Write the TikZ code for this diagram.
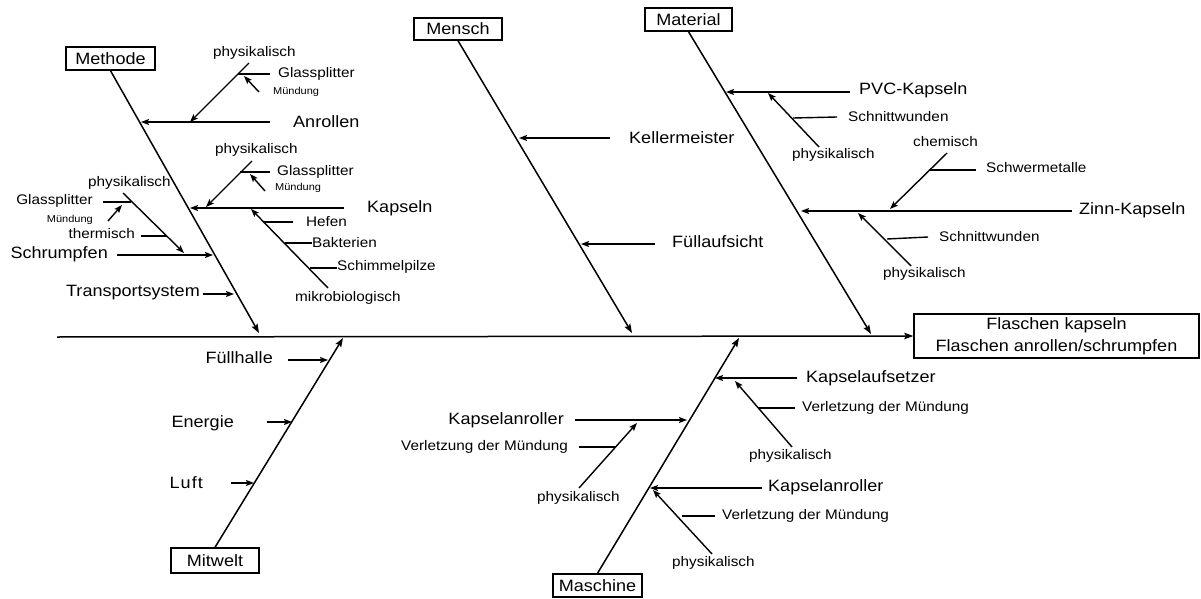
\documentclass[tikz,border=0pt]{standalone}
\usepackage{fontspec}
\setmainfont{Liberation Sans}[FakeStretch=1.1]
\usetikzlibrary{arrows.meta}
\newcommand\fbig{\fontsize{16.4}{19}\selectfont}
\newcommand\fsml{\fontsize{13.9}{16}\selectfont}
\newcommand\ftny{\fontsize{10}{12}\selectfont}
\begin{document}
\begin{tikzpicture}[x=1pt,y=-1pt,
  ln/.style={line width=1.4pt},
  arr/.style={line width=1.4pt,-{Stealth[length=8pt,width=6pt,inset=1.5pt]}},
  bone/.style={line width=1.5pt,-{Stealth[length=9pt,width=6.5pt,inset=1.5pt]}},
  box/.style={draw,line width=1.4pt,inner sep=0,font=\fbig,minimum height=23pt},
  bl/.style={inner sep=0,anchor=west,font=\fbig},
  br/.style={inner sep=0,anchor=east,font=\fbig},
  sl/.style={inner sep=0,anchor=west,font=\fsml},
  sr/.style={inner sep=0,anchor=east,font=\fsml},
  tl/.style={inner sep=0,anchor=west,font=\ftny},
  tr/.style={inner sep=0,anchor=east,font=\ftny},
]
\useasboundingbox (0,0) rectangle (1201,599);

% ---------- head and spine ----------
\node[box,minimum width=285pt,minimum height=44pt,align=center,
      font=\fontsize{16.4}{22}\selectfont] (res) at (1056.5,336)
      {Flaschen kapseln\\Flaschen anrollen/schrumpfen};
\coordinate (sp0) at (57,337);
\draw[bone] (sp0) -- (res.west);

% ---------- category boxes ----------
\node[box,minimum width=89pt] (methode) at (110.5,58.5) {Methode};
\node[box,minimum width=88pt,minimum height=22pt] (mensch) at (458,29) {Mensch};
\node[box,minimum width=87pt] (material) at (688.5,19.5) {Material};
\node[box,minimum width=88pt,minimum height=25pt] (mitwelt) at (215,560.5) {Mitwelt};
\node[box,minimum width=89pt] (maschine) at (597.5,585.5) {Maschine};

\coordinate (meE) at (259,333);
\coordinate (mnE) at (632,333);
\coordinate (maE) at (871,334);
\coordinate (miE) at (343,338);
\coordinate (msE) at (739,338);
\draw[bone] (methode.south) -- (meE);
\draw[bone] (mensch.south) -- (mnE);
\draw[bone] (material.south) -- (maE);
\draw[bone] (mitwelt.north) -- (miE);
\draw[bone] (maschine.north) -- (msE);

% ---------- Methode ----------
\node[sl] (phA) at (213,53) {physikalisch};
\node[sl] (glA) at (278,74) {Glassplitter};
\node[tl] (muA) at (273,92) {Mündung};
\node[bl] (anr) at (293,122) {Anrollen};
\coordinate (a1s) at (270,122); \coordinate (a1e) at (141,122);
\coordinate (p1s) at (249,63);  \coordinate (p1e) at (190,122);
\coordinate (g1a) at (238,74);  \coordinate (g1b) at (270,74);
\coordinate (m1s) at (259,92);  \coordinate (m1e) at (244,76);
\draw[arr] (a1s) -- (a1e);
\draw[arr] (p1s) -- (p1e);
\draw[ln] (g1a) -- (g1b);
\draw[arr] (m1s) -- (m1e);

\node[sl] (phB) at (215,150) {physikalisch};
\node[sl] (glB) at (277,172) {Glassplitter};
\node[tl] (muB) at (275,188) {Mündung};
\node[bl] (kap) at (367,208) {Kapseln};
\node[sl] (hef) at (306,222) {Hefen};
\node[sl] (bak) at (312,243) {Bakterien};
\node[sl] (sch) at (337,267) {Schimmelpilze};
\node[sl] (mik) at (295,298) {mikrobiologisch};
\coordinate (k1s) at (344,208); \coordinate (k1e) at (190,208);
\coordinate (p2s) at (252,161); \coordinate (p2e) at (206,207);
\coordinate (g2a) at (240,172); \coordinate (g2b) at (270,172);
\coordinate (m2s) at (265,191); \coordinate (m2e) at (250,174);
\coordinate (mbs) at (328,288); \coordinate (mbe) at (251,209);
\coordinate (hfa) at (263,222); \coordinate (hfb) at (293,222);
\coordinate (bka) at (285,243); \coordinate (bkb) at (312,243);
\coordinate (sca) at (310,268); \coordinate (scb) at (337,268);
\draw[arr] (k1s) -- (k1e);
\draw[arr] (p2s) -- (p2e);
\draw[ln] (g2a) -- (g2b);
\draw[arr] (m2s) -- (m2e);
\draw[arr] (mbs) -- (mbe);
\draw[ln] (hfa) -- (hfb);
\draw[ln] (bka) -- (bkb);
\draw[ln] (sca) -- (scb);

\node[sl] (phC) at (88,183) {physikalisch};
\node[sr] (glC) at (93,201) {Glassplitter};
\node[tr] (muC) at (93,220) {Mündung};
\node[sr] (the) at (135,234) {thermisch};
\node[br] (sru) at (108,254) {Schrumpfen};
\node[br] (tra) at (200,293) {Transportsystem};
\coordinate (s1s) at (117,255); \coordinate (s1e) at (213,255);
\coordinate (p3s) at (123,193); \coordinate (p3e) at (184,253);
\coordinate (g3a) at (103,202); \coordinate (g3b) at (131,202);
\coordinate (m3s) at (108,221); \coordinate (m3e) at (122,205);
\coordinate (tha) at (141,236); \coordinate (thb) at (167,236);
\coordinate (t1s) at (203,294); \coordinate (t1e) at (234,294);
\draw[arr] (s1s) -- (s1e);
\draw[arr] (p3s) -- (p3e);
\draw[ln] (g3a) -- (g3b);
\draw[arr] (m3s) -- (m3e);
\draw[ln] (tha) -- (thb);
\draw[arr] (t1s) -- (t1e);

% ---------- Mensch ----------
\node[bl] (kel) at (629,138) {Kellermeister};
\node[bl] (fau) at (672,242) {Füllaufsicht};
\coordinate (kes) at (610,138); \coordinate (kee) at (519,138);
\coordinate (fas) at (655,244); \coordinate (fae) at (581,244);
\draw[arr] (kes) -- (kee);
\draw[arr] (fas) -- (fae);

% ---------- Material ----------
\node[bl] (pvc) at (859,90) {PVC-Kapseln};
\node[sl] (snA) at (848,117) {Schnittwunden};
\node[sl] (phD) at (792,155) {physikalisch};
\node[sl] (che) at (913,142) {chemisch};
\node[sl] (swm) at (986,168) {Schwermetalle};
\node[bl] (zin) at (1079,210) {Zinn-Kapseln};
\node[sl] (snB) at (939,237) {Schnittwunden};
\node[sl] (phE) at (883,274) {physikalisch};
\coordinate (pvs) at (850,92);  \coordinate (pve) at (726,92);
\coordinate (p4s) at (819,147); \coordinate (p4e) at (768,93);
\coordinate (n1a) at (793,118); \coordinate (n1b) at (837,117);
\coordinate (zis) at (1072,211); \coordinate (zie) at (801,211);
\coordinate (chs) at (947,153); \coordinate (che2) at (890,209);
\coordinate (swa) at (930,170); \coordinate (swb) at (976,170);
\coordinate (p5s) at (911,266); \coordinate (p5e) at (858,213);
\coordinate (n2a) at (887,239); \coordinate (n2b) at (928,237);
\draw[arr] (pvs) -- (pve);
\draw[arr] (p4s) -- (p4e);
\draw[ln] (n1a) -- (n1b);
\draw[arr] (zis) -- (zie);
\draw[arr] (chs) -- (che2);
\draw[ln] (swa) -- (swb);
\draw[arr] (p5s) -- (p5e);
\draw[ln] (n2a) -- (n2b);

% ---------- Mitwelt ----------
\node[br] (fuh) at (273,358) {Füllhalle};
\node[br] (ene) at (234,423) {Energie};
\node[br] (luf) at (203,483) {L\kern1pt u\kern1pt f\kern1pt t};
\coordinate (fhs) at (288,360); \coordinate (fhe) at (328,360);
\coordinate (ens) at (267,422); \coordinate (ene2) at (292,422);
\coordinate (lus) at (231,483); \coordinate (lue) at (254,483);
\draw[arr] (fhs) -- (fhe);
\draw[arr] (ens) -- (ene2);
\draw[arr] (lus) -- (lue);

% ---------- Maschine ----------
\node[br] (kaL) at (564,420) {Kapselanroller};
\node[sr] (veL) at (568,447) {Verletzung der Mündung};
\node[sl] (phF) at (537,498) {physikalisch};
\coordinate (kls) at (575,420); \coordinate (kle) at (687,420);
\coordinate (p6s) at (579,488); \coordinate (p6e) at (637,423);
\coordinate (v1a) at (579,447); \coordinate (v1b) at (615,447);
\draw[arr] (kls) -- (kle);
\draw[arr] (p6s) -- (p6e);
\draw[ln] (v1a) -- (v1b);

\node[bl] (kau) at (806,378) {Kapselaufsetzer};
\node[sl] (veA) at (802,408) {Verletzung der Mündung};
\node[sl] (phG) at (749,456) {physikalisch};
\coordinate (kas) at (797,378); \coordinate (kae) at (715,378);
\coordinate (p7s) at (792,447); \coordinate (p7e) at (735,381);
\coordinate (v2a) at (758,408); \coordinate (v2b) at (795,408);
\draw[arr] (kas) -- (kae);
\draw[arr] (p7s) -- (p7e);
\draw[ln] (v2a) -- (v2b);

\node[bl] (kaR) at (768,487) {Kapselanroller};
\node[sl] (veR) at (722,516) {Verletzung der Mündung};
\node[sl] (phH) at (672,563) {physikalisch};
\coordinate (krs) at (762,488); \coordinate (kre) at (650,488);
\coordinate (p8s) at (712,554); \coordinate (p8e) at (653,490);
\coordinate (v3a) at (682,516); \coordinate (v3b) at (715,516);
\draw[arr] (krs) -- (kre);
\draw[arr] (p8s) -- (p8e);
\draw[ln] (v3a) -- (v3b);
\end{tikzpicture}
\end{document}
